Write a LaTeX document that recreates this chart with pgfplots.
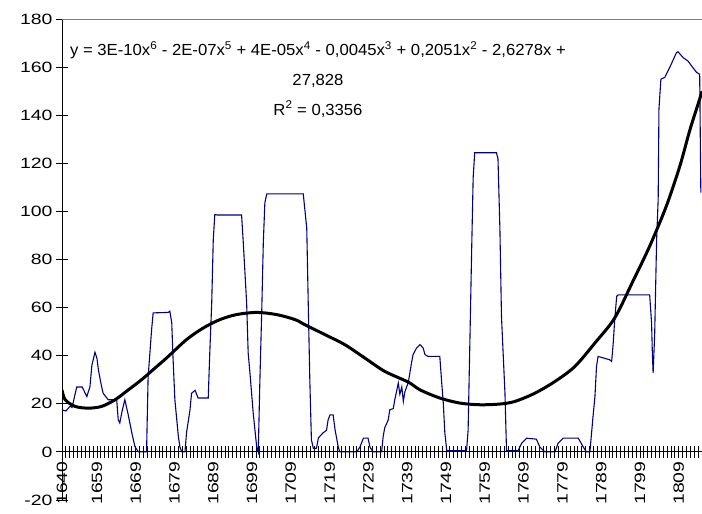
\documentclass[border=0pt]{standalone}
\usepackage{fontspec}
\setmainfont{Liberation Sans}
\newfontfamily\tickfont[FakeStretch=1.3]{Liberation Sans}
\newfontfamily\eqfont[FakeStretch=1.04]{Liberation Sans}
\usepackage{pgfplots}
\pgfplotsset{compat=1.18}
\definecolor{navy}{RGB}{0,0,128}

\begin{document}
\begin{tikzpicture}
\begin{axis}[
  scale only axis, width=640bp, height=481bp,
  xmin=0, xmax=165, ymin=-20, ymax=180,
  axis x line=middle, axis y line=left,
  axis line style={-, black, line width=0.9bp},
  hide obscured x ticks=false, hide obscured y ticks=false,
  xtick={0,9,19,29,39,49,59,69,79,89,99,109,119,129,139,149,159},
  xticklabels={1640,1659,1669,1679,1689,1699,1709,1719,1729,1739,1749,1759,1769,1779,1789,1799,1809},
  minor xtick={0,1,...,165},
  ytick={-20,0,20,40,60,80,100,120,140,160,180},
  yticklabels={-20,0,20,40,60,80,100,120,140,160,180},
  tick align=center, major tick length=12bp, minor tick length=12bp,
  tick style={black, line width=0.8bp},
  xticklabel style={rotate=90, anchor=east, font=\tickfont\fontsize{15}{15}\selectfont},
  yticklabel style={anchor=east, font=\tickfont\fontsize{15}{15}\selectfont},
]
\addplot[navy, line width=1.1bp] coordinates {
(0,17.5) (1.0,17) (2.1,19) (2.6,18.5) (3.8,27) (5.2,27) (6.4,23) (7.2,27) (7.7,36) (8.5,41.4)
(9.0,39) (9.4,34) (10.1,28) (10.6,24.4) (11.9,21.7) (14.1,21.7) (14.5,13.3) (14.9,12) (15.5,17) (16.2,21.7)
(17.0,16) (18.0,7.9) (18.8,2.2) (19.7,0) (21.8,0) (22.2,31) (23.1,50.8) (23.5,57.8) (27.4,58) (27.8,58.5)
(28.3,53.6) (28.6,40) (29.1,21.7) (30.0,6.4) (30.4,2) (30.9,0) (31.7,0) (32.1,7.9) (33.0,17.5) (33.4,24.4)
(34.3,25.6) (35.1,22.4) (37.7,22.4) (38.1,41.2) (38.6,62) (39.0,88.3) (39.4,98.75) (40.0,98.5) (46.3,98.5) (46.7,88)
(47.6,62) (48.0,41) (48.5,32) (49.3,16) (50.2,2) (50.6,0) (51.0,28.6) (51.5,59) (51.9,87) (52.3,103.6)
(52.8,107.3) (62.2,107.3) (63.1,93) (63.5,60.5) (63.9,29.3) (64.3,5) (64.8,1.5) (65.6,1.5) (66.1,5.8) (67.3,7.9)
(68.2,9) (68.6,13.3) (69.1,15.4) (69.9,15.4) (70.4,9.2) (71.2,2.2) (71.6,0) (76.0,0) (76.8,2) (77.7,5.7)
(78.9,5.7) (79.4,2) (80.2,0) (82.4,0) (82.8,6.4) (83.2,10) (84.1,13.3) (84.5,17.5) (85.4,18) (85.8,21.7)
(86.7,28.6) (87.1,24) (87.6,27) (88.0,21) (88.4,25) (89.3,29) (90.1,37) (90.5,40.4) (91.4,43.2) (92.3,44.6)
(93.1,43.2) (93.6,40.4) (94.4,39.7) (97.4,39.7) (97.9,28.6) (98.3,20.3) (98.7,7.9) (99.2,0.5) (104.3,0.5) (104.7,9)
(105.2,49.4) (105.6,82.8) (106.0,114) (106.4,124.4) (112.0,124.4) (112.4,122) (112.9,92.5) (113.3,56.4) (114.2,24.4) (114.6,0.5)
(117.6,0.5) (118.5,3.6) (119.8,5.7) (122.3,5.3) (123.2,2) (124.5,0) (127.1,0) (127.9,3.6) (129.2,5.7) (133.1,5.7)
(134.4,2) (135.2,0) (136.1,0) (136.9,14.7) (137.4,23) (137.8,35.5) (138.2,39.7) (141.2,38.3) (141.7,37.6) (142.1,45)
(142.5,55) (143.0,64.7) (143.4,65.3) (151.5,65.3) (152.0,53.6) (152.2,41) (152.4,32.8) (152.8,49) (153.3,88.3) (153.7,105)
(153.9,142.5) (154.4,155) (155.4,155.7) (156.7,159.9) (158.4,166) (158.8,166.4) (160.1,164) (161.4,162.5) (162.3,160.5) (163.6,157.8)
(164.4,157) (164.7,107.8)
};
\addplot[black, line width=3bp, smooth] coordinates {
(0,25.8) (0.8,21.7) (3.4,18.9) (6.8,18.2) (10.2,18.9) (13.7,21.7) (17.1,25.8) (20.5,30) (24.0,34.9) (27.4,39.7)
(32.1,46.7) (36.4,51.5) (40.7,55) (45.0,57.1) (50.2,58) (55.3,57.1) (60.1,55) (62.6,52.9) (67.8,48.75) (72.9,44.6)
(78.1,39) (83.2,33.5) (89.3,29) (92.3,25.8) (97.4,22.4) (102.6,20.3) (107.7,19.6) (112.9,19.9) (116.8,21) (121.9,24.4)
(127.1,29.3) (132.2,35.5) (137.4,45.3) (142.5,55.7) (147.2,71) (151.5,85.5) (155.8,102.2) (159.3,118.9) (161.9,134) (164.4,146.7)
(165,150)
};
\draw[gray, line width=0.8bp] (rel axis cs:0,1) -- (rel axis cs:1,1);
\draw[gray, line width=0.8bp] (rel axis cs:0,0) -- (rel axis cs:1,0);
\node[align=center, font=\eqfont\fontsize{16.1}{30}\selectfont] at (axis cs:66,155)
  {y = 3E-10x\textsuperscript{6} - 2E-07x\textsuperscript{5} + 4E-05x\textsuperscript{4} - 0,0045x\textsuperscript{3} + 0,2051x\textsuperscript{2} - 2,6278x +\\27,828\\R\textsuperscript{2} = 0,3356};
\coordinate (bl) at (rel axis cs:0,0);
\coordinate (tr) at (rel axis cs:1,1);
\end{axis}
\pgfresetboundingbox
\path[use as bounding box] ([xshift=-62bp,yshift=-14bp]bl) rectangle ([yshift=19bp]tr);
\end{tikzpicture}
\end{document}
